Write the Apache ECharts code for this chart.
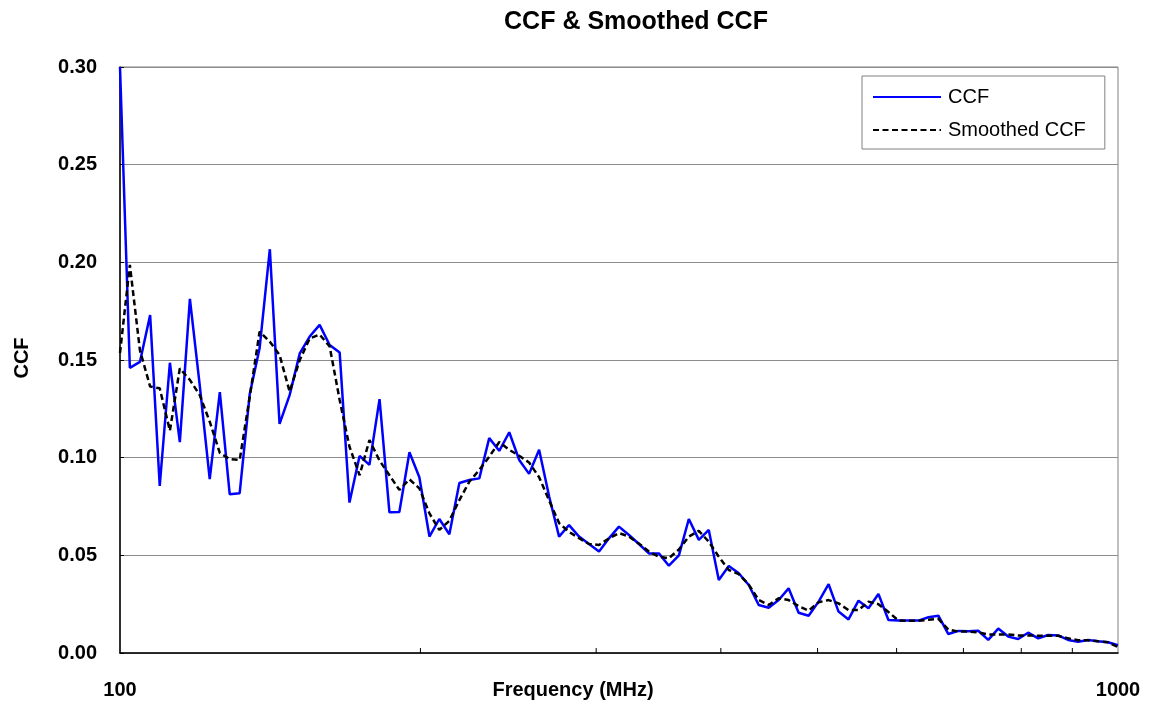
<!DOCTYPE html>
<html><head><meta charset="utf-8">
<script src="https://cdn.jsdelivr.net/npm/echarts@6/dist/echarts.min.js"></script>
<style>html,body{margin:0;padding:0;background:#fff}#c{width:1149px;height:707px}</style>
</head><body><div id="c"></div>
<script>
const frequencies = [100,102.3,104.7,107.2,109.6,112.2,114.8,117.5,120.2,123.0,
  125.9,128.8,131.8,134.9,138.0,141.3,144.5,147.9,151.4,154.9,
  158.5,162.2,166.0,169.8,173.8,177.8,182.0,186.2,190.5,195.0,
  199.5,204.2,208.9,213.8,218.8,223.9,229.1,234.4,239.9,245.5,
  251.2,257.0,263.0,269.2,275.4,281.8,288.4,295.1,302.0,309.0,
  316.2,323.6,331.1,338.8,346.7,354.8,363.1,371.5,380.2,389.0,
  398.1,407.4,416.9,426.6,436.5,446.7,457.1,467.7,478.6,489.8,
  501.2,512.9,524.8,537.0,549.5,562.3,575.4,588.8,602.6,616.6,
  631.0,645.7,660.7,676.1,691.8,707.9,724.4,741.3,758.6,776.2,
  794.3,812.8,831.8,851.1,871.0,891.3,912.0,933.3,955.0,977.2,1000];
const ccf = [0.300,0.146,0.149,0.173,0.0855,0.1486,0.108,0.1813,0.137,0.089,
  0.1336,0.0813,0.0818,0.1326,0.156,0.2067,0.1173,0.132,0.1534,0.162,
  0.168,0.1577,0.1538,0.077,0.1009,0.0963,0.130,0.072,0.0722,0.1028,
  0.090,0.0596,0.0686,0.0608,0.087,0.0886,0.0894,0.110,0.1035,0.113,
  0.0988,0.0917,0.104,0.080,0.0596,0.0655,0.0596,0.0558,0.052,0.0587,
  0.0647,0.0604,0.0558,0.051,0.051,0.0447,0.050,0.0686,0.0579,0.063,
  0.0374,0.0445,0.0408,0.0348,0.0246,0.0232,0.0271,0.0331,0.0206,0.0191,
  0.0263,0.0352,0.0212,0.0172,0.0268,0.0229,0.0302,0.0169,0.0166,0.0166,
  0.0166,0.0183,0.0191,0.0097,0.0113,0.0111,0.0114,0.0067,0.0125,0.0084,
  0.0072,0.0104,0.0075,0.0092,0.009,0.0067,0.0058,0.0067,0.006,0.0055,0.004];
const smoothedCcf = [0.1536,0.1987,0.155,0.1364,0.1355,0.1138,0.1457,0.1398,0.132,0.1184,
  0.1024,0.0993,0.0988,0.1312,0.1645,0.1594,0.1526,0.1338,0.150,0.161,
  0.163,0.157,0.1295,0.1056,0.091,0.109,0.0985,0.091,0.0835,0.0889,
  0.0843,0.0715,0.063,0.0677,0.0783,0.0877,0.0937,0.1005,0.108,0.104,
  0.101,0.0975,0.090,0.078,0.0665,0.062,0.0588,0.0558,0.0553,0.0587,
  0.0614,0.0596,0.056,0.052,0.0493,0.0485,0.053,0.0596,0.0625,0.057,
  0.0493,0.0425,0.0404,0.035,0.0271,0.0246,0.028,0.0271,0.024,0.0217,
  0.026,0.0271,0.0254,0.022,0.022,0.0263,0.025,0.021,0.0166,0.0165,
  0.0165,0.017,0.0175,0.012,0.011,0.011,0.0105,0.0095,0.0095,0.0095,
  0.009,0.009,0.0088,0.0088,0.0088,0.0075,0.0065,0.0065,0.006,0.0055,0.003];
const minorTickFreqs = [200,300,400,500,600,700,800,900];
const titleText = 'CCF & Smoothed CCF';
const xAxisTitle = 'Frequency (MHz)';
const yAxisTitle = 'CCF';

const FONT = "'Liberation Sans', Arial, sans-serif";
const chart = echarts.init(document.getElementById('c'), null, {renderer: 'canvas'});
const pairs = arr => frequencies.map((f, i) => [f, arr[i]]);

chart.setOption({
  animation: false,
  backgroundColor: '#ffffff',
  grid: {left: 120, right: 31, top: 67, bottom: 54, show: true,
         borderColor: '#808080', borderWidth: 1, backgroundColor: 'transparent'},
  legend: {
    data: ['CCF', 'Smoothed CCF'], orient: 'vertical', left: 862, top: 76,
    backgroundColor: '#ffffff', borderColor: '#808080', borderWidth: 1,
    padding: [11, 19, 9, 10], itemWidth: 68, itemHeight: 14, itemGap: 13,
    itemStyle: {opacity: 0},
    textStyle: {fontFamily: FONT, fontSize: 20, color: '#000', padding: [0, 0, 0, 2]}
  },
  xAxis: {
    type: 'log', logBase: 10, min: 100, max: 1000,
    axisLine: {show: true, lineStyle: {color: '#000', width: 1.5}},
    axisTick: {show: false},
    splitLine: {show: false},
    minorTick: {show: false}, minorSplitLine: {show: false},
    axisLabel: {fontFamily: FONT, fontSize: 20, fontWeight: 'bold', color: '#000', margin: 27,
                showMinLabel: true, showMaxLabel: true, formatter: v => String(Math.round(v))}
  },
  yAxis: {
    type: 'value', min: 0, max: 0.3, interval: 0.05,
    axisLine: {show: true, lineStyle: {color: '#000', width: 1.5}},
    axisTick: {show: true, inside: true, length: 4, lineStyle: {color: '#000'}},
    splitLine: {show: true, lineStyle: {color: '#8c8c8c', width: 1}},
    axisLabel: {fontFamily: FONT, fontSize: 20, fontWeight: 'bold', color: '#000', margin: 23,
                formatter: v => v.toFixed(2)}
  },
  graphic: [
    {type: 'text', x: 636, y: 22, style: {text: titleText, fontFamily: FONT, fontSize: 25, fontWeight: 'bold', fill: '#000', align: 'center', verticalAlign: 'middle'}},
    {type: 'text', x: 573, y: 690, style: {text: xAxisTitle, fontFamily: FONT, fontSize: 20, fontWeight: 'bold', fill: '#000', align: 'center', verticalAlign: 'middle'}},
    {type: 'text', x: 22, y: 358, rotation: Math.PI / 2, style: {text: yAxisTitle, fontFamily: FONT, fontSize: 20, fontWeight: 'bold', fill: '#000', align: 'center', verticalAlign: 'middle'}}
  ],
  series: [
    {name: 'CCF', type: 'line', data: pairs(ccf), symbol: 'none', showSymbol: false,
     lineStyle: {color: '#0000ff', width: 2.5}, itemStyle: {color: '#0000ff'}, z: 3},
    {name: 'Smoothed CCF', type: 'line', data: pairs(smoothedCcf), symbol: 'none', showSymbol: false,
     lineStyle: {color: '#000000', width: 2.5, type: [6, 3.5]}, itemStyle: {color: '#000'}, z: 4},
    {name: 'minorTicks', type: 'custom', data: minorTickFreqs.map(f => [f, 0]), silent: true, z: 5,
     renderItem: (params, api) => {
       const p = api.coord([api.value(0), 0]);
       return {type: 'line', shape: {x1: p[0], y1: p[1], x2: p[0], y2: p[1] - 5},
               style: {stroke: '#000', lineWidth: 1}};
     }}
  ]
});
</script></body></html>
